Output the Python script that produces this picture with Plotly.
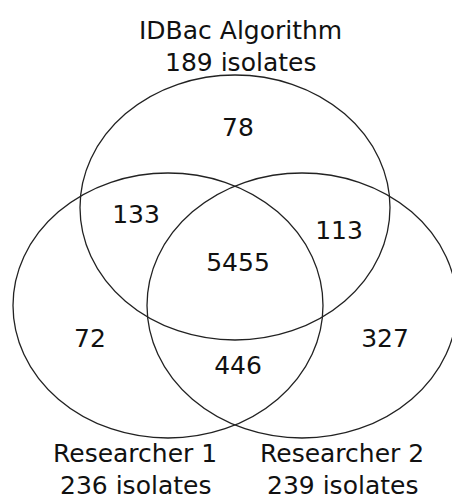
import plotly.graph_objects as go

# Data
set_names = ["IDBac Algorithm", "Researcher 1", "Researcher 2"]
set_isolates = [189, 236, 239]
region_labels = ["IDBac only", "IDBac & R1", "IDBac & R2", "All three", "R1 only", "R2 only", "R1 & R2"]
region_counts = [78, 133, 113, 5455, 72, 327, 446]

# Layout geometry (pixel space)
W, H = 452, 497
rx, ry = 155, 132.5
centers = [(235, 207.5), (168, 305.5), (302, 305.5)]
region_pos = [(238, 130), (136, 217), (339, 233), (238, 265), (90, 341), (385, 341), (238, 368)]
set_label_pos = [(240, 30, 62), (135, 453, 485), (342, 453, 485)]

FONT = "DejaVu Sans"
FS = 25

fig = go.Figure()
fig.add_trace(go.Scatter(
    x=[p[0] for p in region_pos], y=[p[1] for p in region_pos],
    mode="text", text=[str(c) for c in region_counts],
    textfont=dict(family=FONT, size=FS, color="#111111"),
    hoverinfo="skip", showlegend=False))

for (cx, cy) in centers:
    fig.add_shape(type="circle", xref="x", yref="y",
                  x0=cx - rx, x1=cx + rx, y0=cy - ry, y1=cy + ry,
                  line=dict(color="#222222", width=1.3), fillcolor="rgba(0,0,0,0)")

for name, n, (lx, y1, y2) in zip(set_names, set_isolates, set_label_pos):
    fig.add_annotation(x=lx, y=y1, text=name, showarrow=False, xref="x", yref="y",
                       font=dict(family=FONT, size=FS, color="#111111"))
    fig.add_annotation(x=lx, y=y2, text=f"{n} isolates", showarrow=False, xref="x", yref="y",
                       font=dict(family=FONT, size=FS, color="#111111"))

fig.update_layout(
    width=W, height=H, margin=dict(l=0, r=0, t=0, b=0),
    paper_bgcolor="white", plot_bgcolor="white",
    xaxis=dict(range=[0, W], visible=False, fixedrange=True),
    yaxis=dict(range=[H, 0], visible=False, fixedrange=True),
)
fig.write_html("out.html", config={"displayModeBar": False})

with open("out.html", "r", encoding="utf-8") as f:
    html = f.read()
html = html.replace("<head>", "<head><style>html,body{margin:0;padding:0;overflow:hidden;}</style>", 1)
with open("out.html", "w", encoding="utf-8") as f:
    f.write(html)
